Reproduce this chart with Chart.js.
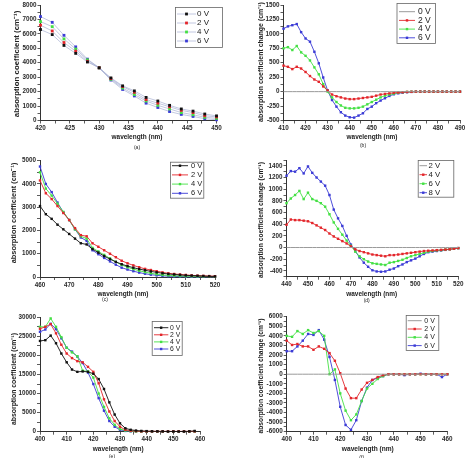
<!DOCTYPE html>
<html>
<head>
<meta charset="utf-8">
<script src="https://cdn.jsdelivr.net/npm/chart.js@4.4.1/dist/chart.umd.min.js"></script>
<style>
  html, body { margin: 0; padding: 0; background: #fff; }
  #wrap { position: relative; width: 473px; height: 458px; overflow: hidden; }
  #wrap canvas { position: absolute; left: 0; top: 0; }
</style>
</head>
<body>
<div id="wrap">
  <canvas id="ca" width="473" height="458"></canvas>
  <canvas id="cb" width="473" height="458"></canvas>
  <canvas id="cc" width="473" height="458"></canvas>
  <canvas id="cd" width="473" height="458"></canvas>
  <canvas id="ce" width="473" height="458"></canvas>
  <canvas id="cf" width="473" height="458"></canvas>
</div>
<script>
// ---- data ----
const waveA = [420,422,424,426,428,430,432,434,436,438,440,442,444,446,448,450];
const a0V = [6300,5950,5200,4650,4050,3650,2950,2400,2050,1600,1350,1050,800,650,450,320];
const a2V = [6600,6200,5400,4800,4100,3650,2900,2350,1950,1450,1200,950,700,550,330,250];
const a4V = [6850,6500,5650,4950,4200,3650,2850,2250,1800,1350,1050,800,550,400,220,150];
const a6V = [7200,6800,5900,5100,4250,3650,2800,2150,1700,1200,900,620,420,280,120,50];

const waveB = [410,412,414,416,418,420,422,424,426,428,430,432,434,436,438,440,442,444,446,448,450,
               452,454,456,458,460,462,464,466,468,470,472,474,476,478,480,482,484,486,488,490];
const b0V = [0,0,0,0,0,0,0,0,0,0,0,0,0,0,0,0,0,0,0,0,0,0,0,0,0,0,0,0,0,0,0,0,0,0,0,0,0,0,0,0,0];
const b2V = [450,430,390,430,400,340,270,210,170,90,20,-50,-80,-100,-120,-130,-130,-120,-110,-100,-90,
             -70,-50,-40,-30,-20,-15,-10,-5,-3,0,0,0,0,0,0,0,0,0,0,0];
const b4V = [750,770,720,790,680,620,540,420,300,130,0,-100,-180,-240,-280,-290,-290,-280,-260,-220,-180,
             -140,-100,-70,-50,-35,-20,-10,-5,-2,0,0,0,0,0,0,0,0,0,0,0];
const b6V = [1090,1130,1150,1170,1030,920,865,690,490,245,20,-145,-260,-357,-415,-444,-450,-415,-375,-300,-260,
             -200,-155,-115,-75,-46,-29,-18,-10,-5,0,0,0,0,0,0,0,0,0,0,0];

const waveC = [460,462,464,466,468,470,472,474,476,478,480,482,484,486,488,490,
               492,494,496,498,500,502,504,506,508,510,512,514,516,518,520];
const c0V = [3050,2700,2500,2250,2050,1850,1650,1450,1400,1200,1050,900,770,650,550,470,400,340,290,240,200,160,130,110,90,70,60,50,40,30,25];
const c2V = [4150,3600,3350,3050,2750,2450,2100,1800,1750,1450,1300,1150,1000,850,700,590,500,420,350,300,250,200,160,130,110,90,70,60,50,40,35];
const c4V = [4500,3800,3500,3150,2800,2450,2050,1750,1650,1250,1100,950,800,650,520,420,340,270,210,160,120,90,70,55,45,35,30,25,20,18,15];
const c6V = [4750,4000,3650,3200,2780,2450,2050,1700,1550,1150,980,820,670,530,400,320,250,190,140,100,70,50,35,25,20,15,10,10,10,10,10];

const waveD = [440,442,444,446,448,450,452,454,456,458,460,462,464,466,468,470,472,474,476,478,480,
               482,484,486,488,490,492,494,496,498,500,502,504,506,508,510,512,514,516,518,520];
const d2V = [0,0,0,0,0,0,0,0,0,0,0,0,0,0,0,0,0,0,0,0,0,0,0,0,0,0,0,0,0,0,0,0,0,0,0,0,0,0,0,0,0];
const d4V = [390,480,470,470,460,450,420,380,340,300,240,190,150,110,70,20,
             -30,-60,-80,-100,-120,-130,-140,-150,-130,-130,-120,-110,-100,-90,-80,-70,-60,-55,-50,-45,-40,-35,-30,-20,-10];
const d6V = [760,840,900,970,830,940,830,800,760,700,570,430,320,220,120,30,
             -70,-150,-200,-240,-270,-280,-290,-300,-260,-250,-230,-210,-180,-150,-130,-110,-90,-70,-60,-50,-45,-35,-30,-20,-10];
const d8V = [1230,1310,1300,1360,1270,1390,1280,1200,1130,1060,900,650,500,370,200,50,
             -60,-170,-260,-330,-390,-410,-415,-410,-380,-360,-320,-290,-250,-220,-190,-150,-110,-80,-70,-60,-50,-40,-30,-20,-10];

const waveE = [400,402,404,406,408,410,412,414,416,418,420,422,424,426,428,
               430,432,434,436,438,440,442,444,446,448,450,452,454,456,458];
const e0V = [23800,24000,25200,23200,20500,18200,16300,15700,15800,15700,15200,13800,11200,7700,4500,2200,900,500,300,200,150,100,100,80,50,50,50,50,100,200];
const e2V = [27000,27500,28200,25800,22800,20500,19300,18500,18200,17000,15700,12700,8500,5300,2800,1300,500,250,150,80,80,80,80,80,80,80,80,80,80,80];
const e4V = [27500,27500,29700,27500,24800,22000,20800,19800,16000,15800,14200,10000,6500,3500,1800,700,300,150,50,50,50,50,50,50,50,50,50,50,50,50];
const e6V = [26200,26800,28300,26900,24500,22000,21000,19700,18000,15500,12500,8800,5500,2800,1300,500,200,100,50,50,50,50,50,50,50,50,50,50,50,50];

const waveF = [400,402,404,406,408,410,412,414,416,418,420,422,424,426,428,430,
               432,434,436,438,440,442,444,446,448,450,452,454,456,458,460];
const f0V = [0,0,0,0,0,0,0,0,0,0,0,0,0,0,0,0,0,0,0,0,0,0,0,0,0,0,0,0,0,0,0];
const f2V = [3500,3050,3150,2900,2900,2550,2900,2650,2200,1400,100,-1500,-2500,-2500,-1600,-900,-600,-300,-100,0,0,0,0,0,0,0,0,0,0,0,0];
const f4V = [4000,3900,4500,4200,4600,4300,4500,4000,0,500,-2000,-3800,-4800,-4200,-2800,-1500,-1000,-500,-200,0,0,0,0,0,0,0,0,0,0,0,0];
const f6V = [2400,2400,2900,3500,4200,4100,4600,3600,1800,-600,-3400,-5300,-5800,-4800,-2800,-1400,-600,-400,-200,0,0,0,-100,0,0,50,0,0,0,-300,0];

// ---- styling ----
const FONT = '"Liberation Sans", Arial, sans-serif';
const BLACK = '#111111', RED = '#e3262b', GREEN = '#44e044', BLUE = '#3b3bd6', GRAY = '#9a9a9a';
const W = 473, H = 458;
const YAXIS_W = 30, XAXIS_H = 12;

function series(label, xs, ys, color, extra) {
  return Object.assign({
    label: label,
    data: xs.map((x, i) => ({ x: x, y: ys[i] })),
    borderColor: color,
    backgroundColor: color,
    pointBackgroundColor: color,
    pointBorderColor: color,
    pointBorderWidth: 0,
    borderWidth: 0.9,
    pointStyle: 'rect',
    pointRadius: 1.7,
    clip: false,
    tension: 0
  }, extra || {});
}

function zeroLine(label, xs, ys) {
  return series(label, xs, ys, GRAY, { pointRadius: 0, borderWidth: 1 });
}

// axis: [min, max, minorStep, majorStart, majorStep]
function axis(a, fit) {
  const [min, max, minor, majorStart, majorStep] = a;
  return {
    type: 'linear', min: min, max: max,
    afterBuildTicks: s => {
      const t = [];
      for (let v = min; v <= max + 1e-6; v += minor) t.push({ value: Math.round(v * 1000) / 1000 });
      s.ticks = t;
    },
    afterFit: fit,
    border: { display: true, color: '#333', width: 1 },
    grid: { drawOnChartArea: false, drawTicks: true, tickLength: 3, color: '#333', lineWidth: 0.8 },
    ticks: {
      autoSkip: false, maxRotation: 0, padding: 1, color: '#2a2a2a',
      font: { family: FONT, size: 6.3, weight: 'bold' },
      callback: v => {
        const k = (v - majorStart) / majorStep;
        return Math.abs(k - Math.round(k)) < 1e-6 ? String(v) : '';
      }
    }
  };
}

// fit text to a target width
function fitFont(ctx, text, target, weight) {
  ctx.font = weight + ' 10px ' + FONT;
  const w = ctx.measureText(text).width;
  return weight + ' ' + (10 * target / w).toFixed(2) + 'px ' + FONT;
}

const annot = {
  id: 'annot',
  afterDraw(chart, args, o) {
    const ctx = chart.ctx;
    ctx.save();
    ctx.fillStyle = '#222';
    ctx.textAlign = 'center';
    ctx.textBaseline = 'middle';
    // x title
    ctx.font = fitFont(ctx, o.xTitle, o.xTitleW, 'bold');
    ctx.fillText(o.xTitle, o.xTitleAt[0], o.xTitleAt[1]);
    // y title
    ctx.save();
    ctx.translate(o.yTitleAt[0], o.yTitleAt[1]);
    ctx.rotate(-Math.PI / 2);
    ctx.font = fitFont(ctx, o.yTitle, o.yTitleW, 'bold');
    ctx.fillText(o.yTitle, 0, 0);
    ctx.restore();
    // caption
    ctx.font = '5px ' + FONT;
    ctx.fillText(o.caption, o.captionAt[0], o.captionAt[1]);
    // legend box
    const lg = o.legend;
    const [bx, by, bw, bh] = lg.box;
    ctx.fillStyle = '#fff';
    ctx.fillRect(bx, by, bw, bh);
    ctx.strokeStyle = '#666';
    ctx.lineWidth = 0.8;
    ctx.strokeRect(bx + 0.5, by + 0.5, bw, bh);
    ctx.textAlign = 'left';
    ctx.font = lg.font + 'px ' + FONT;
    chart.data.datasets.forEach((ds, i) => {
      const ry = lg.row0 + i * lg.dy;
      ctx.strokeStyle = ds.borderColor;
      ctx.lineWidth = ds.borderWidth;
      ctx.beginPath();
      ctx.moveTo(lg.line[0], ry);
      ctx.lineTo(lg.line[1], ry);
      ctx.stroke();
      if (ds.pointRadius > 0) {
        const s = ds.pointRadius * Math.SQRT1_2;
        const mx = (lg.line[0] + lg.line[1]) / 2;
        ctx.fillStyle = ds.pointBackgroundColor;
        ctx.fillRect(mx - s, ry - s, 2 * s, 2 * s);
      }
      ctx.fillStyle = '#222';
      ctx.fillText(ds.label, lg.text, ry);
    });
    ctx.restore();
  }
};

function makePanel(p) {
  const [l, t, r, b] = p.plot;
  new Chart(document.getElementById(p.id), {
    type: 'line',
    data: { datasets: p.datasets },
    options: {
      responsive: false,
      animation: false,
      events: [],
      layout: { padding: { left: l - YAXIS_W, top: t, right: W - r, bottom: H - b - XAXIS_H } },
      plugins: {
        legend: { display: false },
        tooltip: { enabled: false },
        annot: p.annot
      },
      scales: {
        x: axis(p.x, s => { s.height = XAXIS_H; }),
        y: axis(p.y, s => { s.width = YAXIS_W; })
      }
    },
    plugins: [annot]
  });
}

const lineA = 'rgba(165,175,210,0.75)';
const yTitle1 = 'absorption coefficient (cm\u207B\u00B9)';
const yTitle2 = 'absorption coefficient change (cm\u207B\u00B9)';

makePanel({
  id: 'ca', plot: [40.5, 5, 216.5, 120.5],
  x: [420, 450, 2.5, 420, 5], y: [0, 8000, 500, 0, 1000],
  datasets: [
    series('0 V', waveA, a0V, BLACK, { borderColor: lineA, pointRadius: 2 }),
    series('2 V', waveA, a2V, RED, { borderColor: lineA, pointRadius: 2 }),
    series('4 V', waveA, a4V, GREEN, { borderColor: lineA, pointRadius: 2 }),
    series('6 V', waveA, a6V, BLUE, { borderColor: lineA, pointRadius: 2 })
  ],
  annot: {
    xTitle: 'wavelength (nm)', xTitleAt: [137, 137], xTitleW: 51,
    yTitle: yTitle1, yTitleAt: [16.5, 64], yTitleW: 106,
    caption: '(a)', captionAt: [137, 148],
    legend: { box: [175, 7, 47, 40], line: [177, 196], text: 197, row0: 14, dy: 9, font: 8 }
  }
});

makePanel({
  id: 'cb', plot: [283.5, 5, 460, 120.5],
  x: [410, 490, 5, 410, 10], y: [-500, 1500, 125, -500, 250],
  datasets: [
    zeroLine('0 V', waveB, b0V),
    series('2 V', waveB, b2V, RED),
    series('4 V', waveB, b4V, GREEN),
    series('6 V', waveB, b6V, BLUE)
  ],
  annot: {
    xTitle: 'wavelength (nm)', xTitleAt: [372, 137], xTitleW: 51,
    yTitle: yTitle2, yTitleAt: [261, 62], yTitleW: 120,
    caption: '(b)', captionAt: [363, 146],
    legend: { box: [396.5, 3, 38.5, 40], line: [399, 415], text: 418, row0: 11.7, dy: 8.7, font: 8.5 }
  }
});

makePanel({
  id: 'cc', plot: [40, 160.7, 215, 277],
  x: [460, 520, 5, 460, 10], y: [0, 5000, 500, 0, 1000],
  datasets: [
    series('0 V', waveC, c0V, BLACK),
    series('2 V', waveC, c2V, RED),
    series('4 V', waveC, c4V, GREEN),
    series('6 V', waveC, c6V, BLUE)
  ],
  annot: {
    xTitle: 'wavelength (nm)', xTitleAt: [123, 294], xTitleW: 51,
    yTitle: yTitle1, yTitleAt: [14, 213], yTitleW: 100,
    caption: '(c)', captionAt: [105, 300],
    legend: { box: [170, 161.7, 33.3, 36], line: [172, 188], text: 191, row0: 165.7, dy: 9.2, font: 7.5 }
  }
});

makePanel({
  id: 'cd', plot: [286.5, 160, 458.3, 276.7],
  x: [440, 520, 5, 440, 10], y: [-500, 1500, 100, -400, 200],
  datasets: [
    zeroLine('2 V', waveD, d2V),
    series('4 V', waveD, d4V, RED),
    series('6 V', waveD, d6V, GREEN),
    series('8 V', waveD, d8V, BLUE)
  ],
  annot: {
    xTitle: 'wavelength (nm)', xTitleAt: [371.7, 294], xTitleW: 51,
    yTitle: yTitle2, yTitleAt: [261, 220], yTitleW: 116,
    caption: '(d)', captionAt: [366.7, 300.5],
    legend: { box: [417.7, 160, 35.6, 36.7], line: [419.5, 427], text: 428.5, row0: 165.7, dy: 9, font: 7.8 }
  }
});

makePanel({
  id: 'ce', plot: [40, 317.3, 200, 431.7],
  x: [400, 460, 5, 400, 10], y: [0, 30000, 2500, 0, 5000],
  datasets: [
    series('0 V', waveE, e0V, BLACK),
    series('2 V', waveE, e2V, RED),
    series('4 V', waveE, e4V, GREEN),
    series('6 V', waveE, e6V, BLUE)
  ],
  annot: {
    xTitle: 'wavelength (nm)', xTitleAt: [118.3, 449], xTitleW: 51,
    yTitle: yTitle1, yTitleAt: [14, 379], yTitleW: 92,
    caption: '(e)', captionAt: [112, 457],
    legend: { box: [151.7, 321, 30, 34], line: [154, 168.3], text: 170, row0: 327.7, dy: 7.1, font: 6.8 }
  }
});

makePanel({
  id: 'cf', plot: [286.7, 316.7, 447.3, 431.7],
  x: [400, 460, 5, 400, 10], y: [-6000, 6000, 500, -6000, 1000],
  datasets: [
    zeroLine('0 V', waveF, f0V),
    series('2 V', waveF, f2V, RED),
    series('4 V', waveF, f4V, GREEN),
    series('6 V', waveF, f6V, BLUE)
  ],
  annot: {
    xTitle: 'wavelength (nm)', xTitleAt: [367.8, 449], xTitleW: 52,
    yTitle: yTitle2, yTitleAt: [261.5, 376], yTitleW: 115,
    caption: '(f)', captionAt: [361.7, 457.5],
    legend: { box: [405.7, 315, 32.6, 35], line: [407.7, 421.7], text: 424.3, row0: 320.7, dy: 8.3, font: 7 }
  }
});
</script>
</body>
</html>
